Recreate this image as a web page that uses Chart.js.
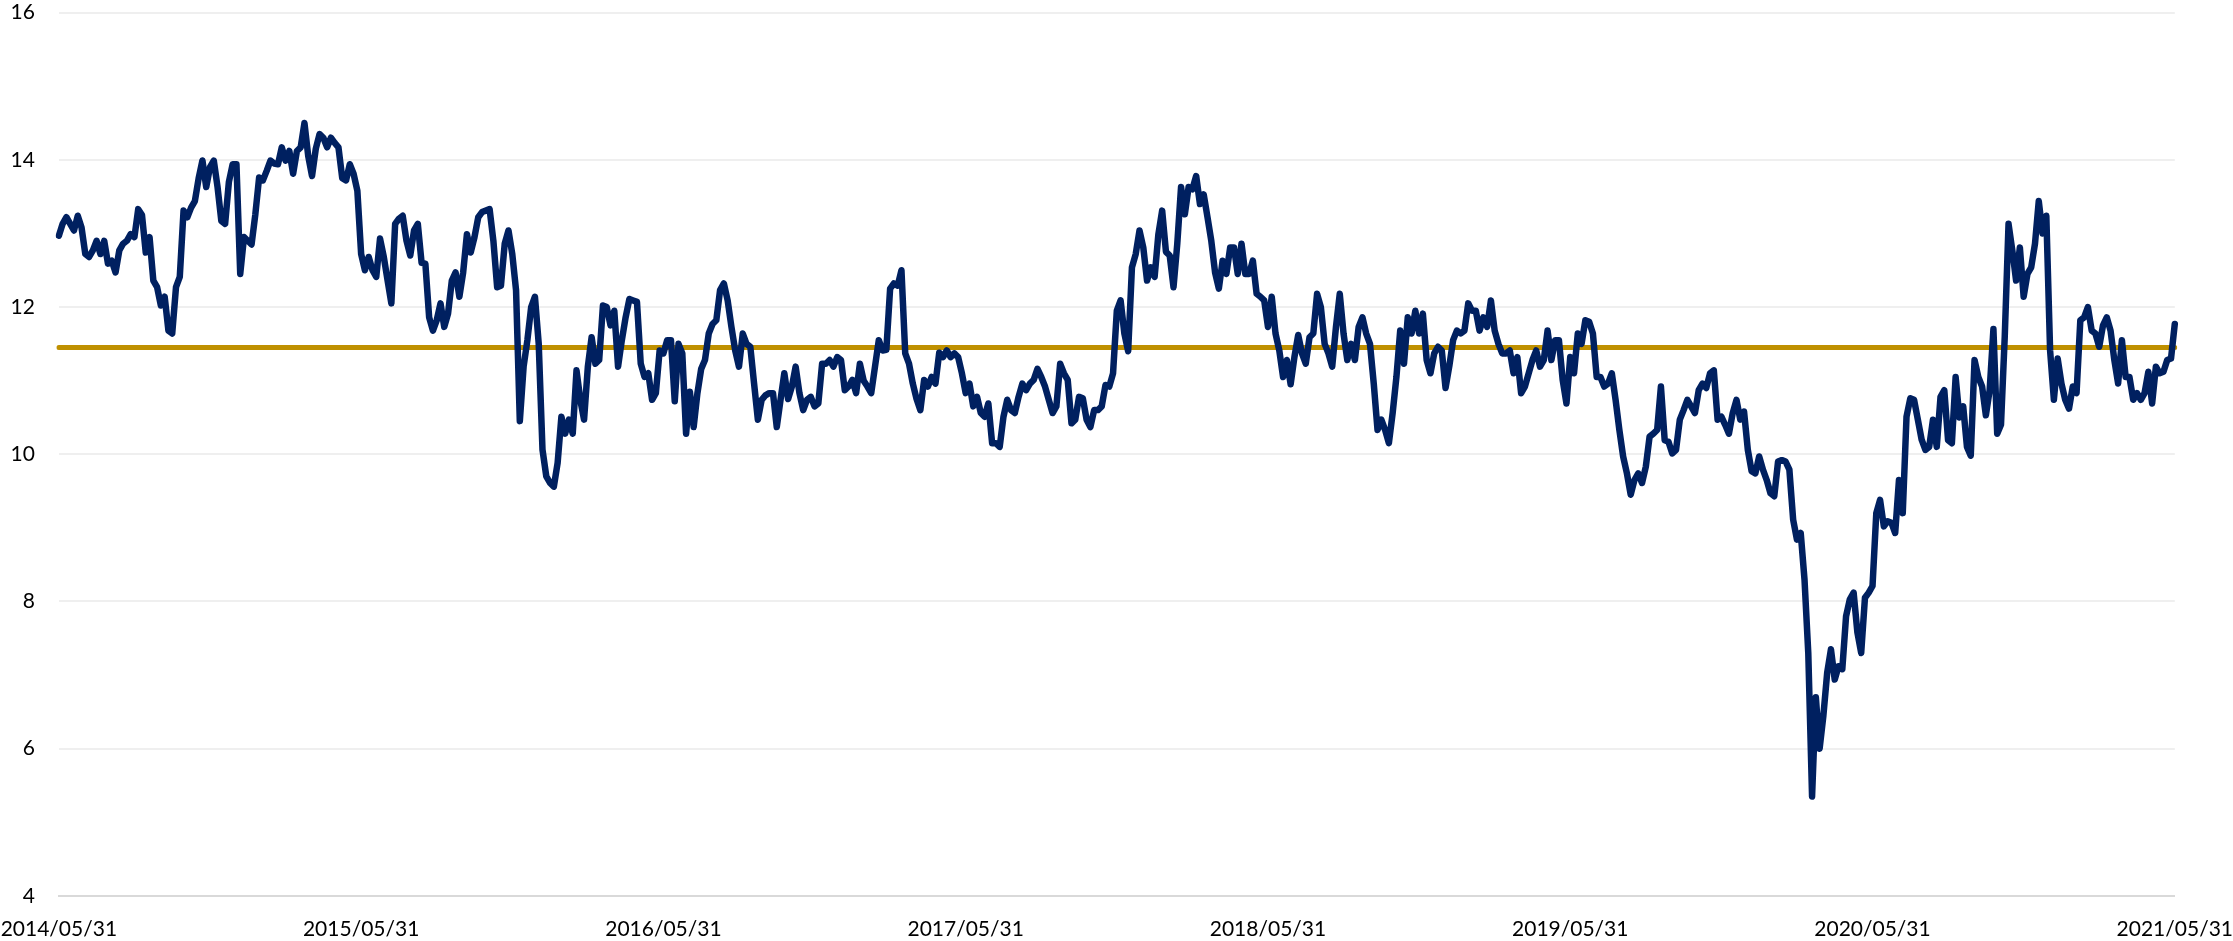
<!DOCTYPE html>
<html>
<head>
<meta charset="utf-8">
<script src="https://cdn.jsdelivr.net/npm/chart.js@4.4.1/dist/chart.umd.min.js"></script>
<style>
  html, body { margin: 0; padding: 0; background: #fff; }
  #wrap { width: 2233px; height: 941px; position: relative; }
</style>
</head>
<body>
<div id="wrap"><canvas id="peChart"></canvas></div>
<script>
// tick labels shown on the x axis (one per year)
const yearLabels = ['2014/05/31', '2015/05/31', '2016/05/31', '2017/05/31', '2018/05/31', '2019/05/31', '2020/05/31', '2021/05/31'];
const pointsPerYear = 80;

// series, ~80 samples per year
const ratio = [
  12.97, 13.13, 13.22, 13.13, 13.04, 13.24, 13.08, 12.72, 12.68, 12.77, 12.90, 12.72, 12.90, 12.59, 12.63, 12.47, 12.77, 12.86, 12.90, 12.99,
  12.95, 13.33, 13.25, 12.74, 12.95, 12.36, 12.27, 12.02, 12.14, 11.68, 11.64, 12.27, 12.41, 13.31, 13.22, 13.35, 13.44, 13.75, 13.99, 13.63,
  13.90, 13.99, 13.63, 13.17, 13.13, 13.70, 13.94, 13.94, 12.45, 12.95, 12.90, 12.85, 13.26, 13.76, 13.72, 13.85, 13.99, 13.95, 13.94, 14.17,
  13.99, 14.12, 13.81, 14.12, 14.17, 14.50, 14.05, 13.78, 14.15, 14.35, 14.30, 14.17, 14.30, 14.23, 14.17, 13.75, 13.72, 13.94, 13.81, 13.58,
  12.72, 12.50, 12.68, 12.50, 12.41, 12.93, 12.68, 12.36, 12.05, 13.13, 13.20, 13.24, 12.90, 12.70, 13.04, 13.13, 12.60, 12.59, 11.86, 11.68,
  11.82, 12.05, 11.73, 11.91, 12.36, 12.47, 12.14, 12.47, 12.99, 12.74, 12.95, 13.22, 13.29, 13.31, 13.33, 12.90, 12.27, 12.29, 12.86, 13.04,
  12.72, 12.23, 10.45, 11.19, 11.55, 12.00, 12.14, 11.50, 10.06, 9.70, 9.61, 9.56, 9.88, 10.51, 10.28, 10.47, 10.28, 11.14, 10.74, 10.47,
  11.19, 11.59, 11.23, 11.28, 12.02, 12.00, 11.75, 11.95, 11.19, 11.55, 11.86, 12.11, 12.09, 12.07, 11.23, 11.05, 11.10, 10.74, 10.83, 11.41,
  11.37, 11.55, 11.55, 10.72, 11.50, 11.37, 10.28, 10.85, 10.37, 10.83, 11.16, 11.28, 11.64, 11.77, 11.82, 12.23, 12.32, 12.09, 11.73, 11.41,
  11.19, 11.64, 11.50, 11.46, 10.96, 10.47, 10.74, 10.80, 10.83, 10.83, 10.37, 10.74, 11.10, 10.75, 10.92, 11.19, 10.83, 10.60, 10.74, 10.78,
  10.65, 10.69, 11.23, 11.23, 11.28, 11.19, 11.32, 11.28, 10.87, 10.92, 11.01, 10.83, 11.23, 11.00, 10.92, 10.83, 11.19, 11.55, 11.41, 11.42,
  12.25, 12.32, 12.29, 12.50, 11.37, 11.23, 10.96, 10.75, 10.60, 11.01, 10.92, 11.05, 10.96, 11.38, 11.32, 11.41, 11.32, 11.37, 11.32, 11.10,
  10.83, 10.96, 10.65, 10.78, 10.56, 10.51, 10.69, 10.15, 10.15, 10.10, 10.51, 10.74, 10.60, 10.56, 10.78, 10.96, 10.87, 10.96, 11.01, 11.16,
  11.05, 10.92, 10.74, 10.56, 10.65, 11.23, 11.10, 11.01, 10.42, 10.47, 10.78, 10.76, 10.47, 10.37, 10.60, 10.60, 10.65, 10.94, 10.92, 11.10,
  11.95, 12.09, 11.64, 11.40, 12.54, 12.72, 13.04, 12.81, 12.36, 12.54, 12.41, 12.99, 13.31, 12.75, 12.70, 12.27, 12.86, 13.63, 13.26, 13.63,
  13.60, 13.78, 13.40, 13.53, 13.22, 12.90, 12.47, 12.25, 12.63, 12.45, 12.81, 12.81, 12.45, 12.86, 12.45, 12.45, 12.63, 12.18, 12.14, 12.09,
  11.73, 12.14, 11.64, 11.41, 11.05, 11.28, 10.95, 11.32, 11.62, 11.37, 11.23, 11.59, 11.64, 12.18, 12.00, 11.50, 11.37, 11.19, 11.73, 12.18,
  11.64, 11.28, 11.50, 11.28, 11.73, 11.86, 11.64, 11.50, 10.96, 10.33, 10.47, 10.33, 10.15, 10.56, 11.05, 11.68, 11.23, 11.86, 11.64, 11.95,
  11.64, 11.91, 11.28, 11.10, 11.37, 11.46, 11.41, 10.90, 11.20, 11.55, 11.68, 11.64, 11.68, 12.05, 11.95, 11.95, 11.68, 11.86, 11.73, 12.09,
  11.68, 11.50, 11.37, 11.37, 11.41, 11.10, 11.32, 10.83, 10.92, 11.10, 11.28, 11.41, 11.19, 11.28, 11.68, 11.28, 11.55, 11.55, 11.01, 10.69,
  11.32, 11.10, 11.64, 11.50, 11.82, 11.80, 11.64, 11.05, 11.05, 10.92, 10.96, 11.10, 10.74, 10.33, 9.97, 9.74, 9.45, 9.65, 9.74, 9.61,
  9.83, 10.24, 10.28, 10.33, 10.92, 10.19, 10.17, 10.01, 10.06, 10.47, 10.60, 10.74, 10.65, 10.56, 10.87, 10.96, 10.90, 11.10, 11.14, 10.47,
  10.51, 10.40, 10.28, 10.56, 10.74, 10.47, 10.58, 10.06, 9.77, 9.74, 9.97, 9.79, 9.65, 9.47, 9.43, 9.90, 9.92, 9.90, 9.79, 9.11,
  8.84, 8.93, 8.30, 7.30, 5.35, 6.70, 6.00, 6.45, 7.03, 7.35, 6.94, 7.12, 7.08, 7.80, 8.03, 8.12, 7.58, 7.30, 8.05, 8.12,
  8.21, 9.20, 9.38, 9.02, 9.09, 9.07, 8.93, 9.65, 9.20, 10.51, 10.76, 10.74, 10.47, 10.20, 10.06, 10.10, 10.47, 10.10, 10.78, 10.87,
  10.19, 10.15, 11.05, 10.50, 10.65, 10.10, 9.98, 11.28, 11.05, 10.92, 10.53, 10.87, 11.70, 10.28, 10.40, 11.60, 13.13, 12.77, 12.36, 12.81,
  12.14, 12.45, 12.54, 12.86, 13.44, 13.00, 13.24, 11.41, 10.74, 11.30, 10.96, 10.74, 10.62, 10.92, 10.83, 11.82, 11.86, 12.00, 11.68, 11.64,
  11.46, 11.75, 11.86, 11.68, 11.28, 10.96, 11.55, 11.05, 11.05, 10.74, 10.83, 10.74, 10.83, 11.12, 10.69, 11.19, 11.10, 11.12, 11.28, 11.30,
  11.77
];

// long-run average level (gold line)
const averageLevel = 11.45;

const labels = ratio.map((_, i) => (i % pointsPerYear === 0 ? yearLabels[i / pointsPerYear] : ''));
const averageLine = ratio.map(() => averageLevel);

const ctx = document.getElementById('peChart').getContext('2d');

const peChart = new Chart(ctx, {
  type: 'line',
  data: {
    labels: labels,
    datasets: [{
      label: 'Ratio',
      data: ratio,
      borderColor: '#002060',
      borderWidth: 6.5,
      pointRadius: 0,
      tension: 0,
      fill: false,
      borderJoinStyle: 'round',
      borderCapStyle: 'round',
      order: 0
    }, {
      label: 'Average',
      data: averageLine,
      borderColor: '#BF9000',
      borderWidth: 5,
      pointRadius: 0,
      tension: 0,
      fill: false,
      borderCapStyle: 'round',
      order: 1
    }]
  },
  options: {
    responsive: true,
    maintainAspectRatio: false,
    animation: false,
    layout: {
      padding: { left: 10.5, right: 0, top: 0, bottom: 0 }
    },
    plugins: {
      legend: { display: false },
      tooltip: { enabled: false }
    },
    scales: {
      x: {
        // transparent tick marks give the gap under the axis
        grid: { display: true, drawOnChartArea: false, drawTicks: true, tickLength: 22, tickColor: 'rgba(0,0,0,0)', color: 'rgba(0,0,0,0)' },
        border: { display: true, color: '#d9d9d9', width: 2 },
        ticks: {
          autoSkip: false,
          maxRotation: 0,
          padding: 0,
          color: '#000',
          font: { family: 'Lato', size: 21, lineHeight: 1.1 }
        }
      },
      y: {
        min: 4,
        max: 16,
        grid: { color: '#efefef', lineWidth: 2, drawTicks: true, tickLength: 24, tickColor: 'rgba(0,0,0,0)' },
        border: { display: false },
        ticks: {
          stepSize: 2,
          padding: 0,
          color: '#000',
          font: { family: 'Lato', size: 21 }
        }
      }
    }
  }
});
</script>
</body>
</html>
